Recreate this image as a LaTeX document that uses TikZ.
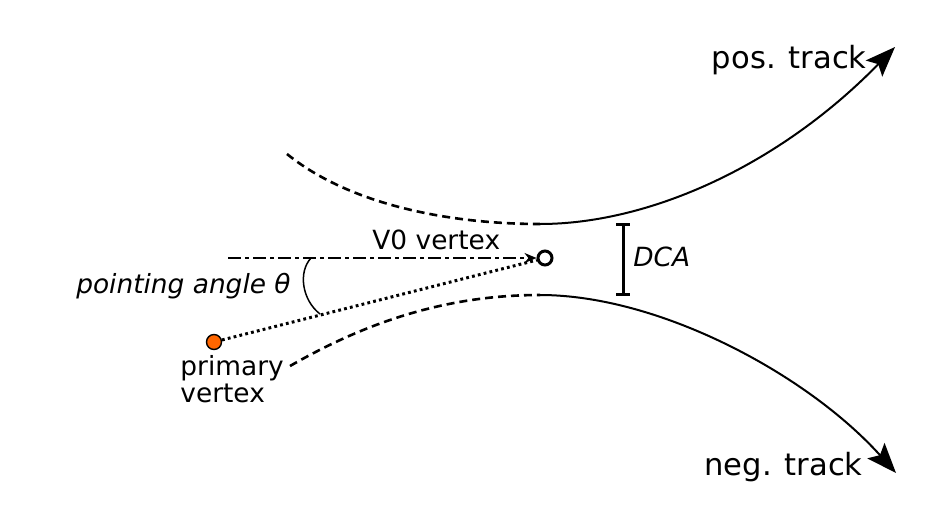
\documentclass[tikz,border=0pt]{standalone}
\usepackage{fontspec}
\setmainfont{DejaVu Sans}
\usetikzlibrary{arrows.meta}
\definecolor{pvorange}{RGB}{255,102,0}
\tikzset{
  track/.style={line width=1pt,-{Stealth[length=15pt,width=11.5pt,inset=3pt]}},
  extrap/.style={line width=1.3pt,dash pattern=on 4pt off 2.5pt},
  small/.style={font=\fontsize{13.2}{11.75}\selectfont,inner sep=0pt},
  big/.style={font=\fontsize{15.3}{19}\selectfont,inner sep=0pt},
}
\begin{document}
\begin{tikzpicture}[x=0.5pt,y=-0.5pt]
\useasboundingbox (0,0) rectangle (952,520);
% vertices
\node[circle,draw,line width=0.7pt,fill=pvorange,minimum size=7.5pt,inner sep=0pt] (pv) at (214,342) {};
\node[circle,draw,line width=1.5pt,minimum size=7pt,inner sep=0pt] (v0) at (545,258) {};
% track coordinates
\coordinate (ua) at (287,154);
\coordinate (ub) at (540,224);
\coordinate (uc) at (895,47);
\coordinate (la) at (290,366);
\coordinate (lb) at (540,295);
\coordinate (lc) at (896,473);
\coordinate (dl) at (228,258);
% extrapolations (dashed)
\draw[extrap] (ua) .. controls (350,205) and (450,224) .. (ub);
\draw[extrap] (la) .. controls (370,320) and (450,295) .. (lb);
% tracks
\draw[track] (ub) .. controls (650,224) and (780,165) .. (uc);
\draw[track] (lb) .. controls (660,295) and (808,375) .. (lc);
% dash-dot line to V0
\draw[line width=1pt,dash pattern=on 6.5pt off 2pt on 2pt off 2pt,-{Stealth[length=6pt,width=5pt]}] (dl) -- (v0.west);
% dotted line from primary vertex
\draw[line width=1.5pt,dash pattern=on 1.4pt off 1.6pt] (pv) -- (v0);
% angle arc
\draw[line width=0.75pt] (311,258) .. controls (298,272) and (302,300) .. (320,314);
% DCA bar
\coordinate (dt) at (623,224);
\coordinate (db) at (623,294);
\draw[line width=1.5pt] (dt) -- (db);
\draw[line width=1.5pt] ([xshift=-3.5pt]dt) -- ([xshift=3.5pt]dt);
\draw[line width=1.5pt] ([xshift=-3.5pt]db) -- ([xshift=3.5pt]db);
% labels
\node[big,anchor=base east] (pos) at (867,68) {pos. track};
\node[big,anchor=base east] (neg) at (863,475) {neg. track};
\node[small,anchor=base west] (dca) at (633,266) {\itshape DCA};
\node[small,anchor=base west] (v0l) at (372,249) {V0 vertex};
\node[small,anchor=base east] (pa) at (291,293) {\itshape pointing angle θ};
\node[small,anchor=base west,align=left] (pvl) at (180,402) {primary\\vertex};
\end{tikzpicture}
\end{document}
